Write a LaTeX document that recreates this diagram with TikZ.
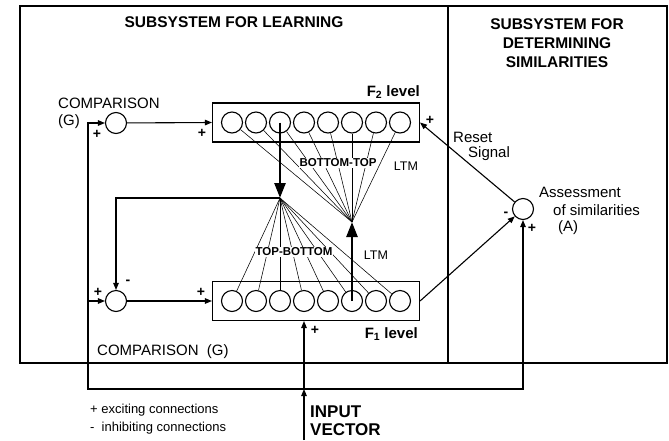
\documentclass[tikz,border=0pt]{standalone}
\usepackage{fontspec}
\setmainfont{Liberation Sans}
\usetikzlibrary{arrows.meta,calc}
\begin{document}
\begin{tikzpicture}[x=1pt,y=-1pt,
  frame/.style={line width=1.4pt},
  conn/.style={line width=1.1pt},
  arr/.style={conn,-{Triangle[length=7pt,width=5.5pt]}},
  fanline/.style={line width=0.55pt},
  thickarr/.style={line width=2.6pt,-{Triangle[length=15pt,width=11pt]}},
  comp/.style={circle,draw,line width=1.1pt,minimum size=21pt,inner sep=0pt},
  cell/.style={circle,draw,line width=1.1pt,minimum size=21pt,inner sep=0pt},
  level/.style={draw,line width=1.1pt,minimum width=207pt,minimum height=39pt,inner sep=0pt},
  title/.style={font=\fontsize{15.5}{19}\selectfont\bfseries,align=center},
  lab/.style={font=\fontsize{15}{17}\selectfont,inner sep=0pt,anchor=west},
  sgn/.style={font=\fontsize{14}{14}\selectfont\bfseries,inner sep=0pt},
  fanlab/.style={font=\fontsize{11.5}{13}\selectfont\bfseries,fill=white,inner sep=1pt},
  ltm/.style={font=\fontsize{12.5}{14}\selectfont,inner sep=0pt},
  lvl/.style={font=\fontsize{15}{17}\selectfont\bfseries,inner sep=0pt,anchor=east},
  leg/.style={font=\fontsize{13}{15}\selectfont,inner sep=0pt,anchor=west},
  inp/.style={font=\fontsize{17}{19}\selectfont\bfseries,inner sep=0pt,anchor=west}]
\useasboundingbox (0,0) rectangle (669,440);

% frame
\draw[frame] (20,6) rectangle (667,363);
\draw[frame] (448,6) -- (448,363);
\node[title] (t1) at (234,22) {SUBSYSTEM FOR LEARNING};
\node[title] (t2) at (557,43) {SUBSYSTEM FOR\\DETERMINING\\SIMILARITIES};

% level boxes
\node[level] (f2) at (316,122.5) {};
\node[level] (f1) at (316,301) {};
\foreach \i in {1,...,8}{
  \node[cell] (a\i) at ({232+24*(\i-1)},122.5) {};
  \node[cell] (b\i) at ({232+24*(\i-1)},301) {};
}
\node[lvl] (f2l) at (420,92) {F\textsubscript{2} level};
\node[lvl] (f1l) at (418,334) {F\textsubscript{1} level};

% fan apexes
\coordinate (tb) at (280,198);
\coordinate (bt) at (352,222);
\foreach \i in {1,...,8}{
  \draw[fanline] (tb) -- (b\i);
  \draw[fanline] (bt) -- (a\i);
}
\node[fanlab] (btl) at (338,163) {BOTTOM-TOP};
\node[fanlab] (tbl) at (294,252) {TOP-BOTTOM};
\node[ltm] (ltm1) at (406,166) {LTM};
\node[ltm] (ltm2) at (376,255) {LTM};
\draw[thickarr] (a3.center) -- (tb);
\draw[thickarr] (b6.center) -- (bt);

% comparators
\node[comp] (c1) at (116,123) {};
\node[comp] (c2) at (116,301) {};
\node[comp] (as) at (523,209) {};
\node[lab] (cmp1) at (58,103) {COMPARISON};
\node[lab] (cmp1g) at (58,122) {(G)};
\node[lab] (cmp2) at (97,352) {COMPARISON\ \ (G)};
\node[lab] (rs1) at (453,137) {Reset};
\node[lab] (rs2) at (468,154) {Signal};
\node[lab] (as1) at (539,192) {Assessment};
\node[lab] (as2) at (553,210) {of similarities};
\node[lab] (as3) at (558,228) {(A)};

% loop coordinates
\coordinate (lt) at (88,123);
\coordinate (lm) at (88,301);
\coordinate (jn) at (304,389);
\coordinate (inb) at (304,440);
\coordinate (fin) at (304,321);

\draw[arr] (c1) -- (f2.west);
\draw[arr] (c2) -- (f1.west);
\draw[arr] (tb) -| (c2);
\draw[arr] (jn) -| (lt) -- (c1);
\draw[arr] (lm) -- (c2);
\draw[arr] (jn) -| (as);
\draw[arr] (inb) -- (jn);
\draw[arr] (jn) -- (fin);
\draw[arr] (as) -- (f2.east);
\draw[arr] (f1.east) -- (as);

% signs
\node[sgn] (p1) at (97,134) {+};
\node[sgn] (p2) at (202,133) {+};
\node[sgn] (p3) at (430,120) {+};
\node[sgn] (p4) at (98,292) {+};
\node[sgn] (p5) at (201,292) {+};
\node[sgn] (m1) at (128,282) {-};
\node[sgn] (m2) at (506,214) {-};
\node[sgn] (p6) at (532,228) {+};
\node[sgn] (p7) at (315,330) {+};

% legend
\node[leg] (lg1) at (90,410) {+ exciting connections};
\node[leg] (lg2) at (90,428) {-\ \ inhibiting connections};
\node[inp] (in1) at (310,412) {INPUT};
\node[inp] (in2) at (310,430) {VECTOR};
\end{tikzpicture}
\end{document}
